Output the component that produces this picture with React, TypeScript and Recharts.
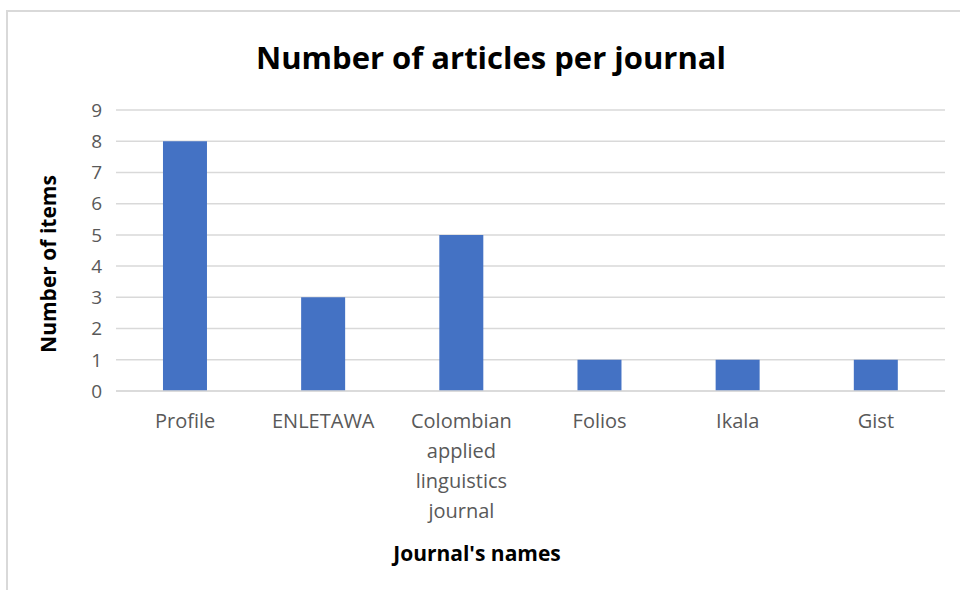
import { BarChart, Bar, XAxis, YAxis, CartesianGrid } from 'recharts';

// Journal names and article counts
const journals = ['Profile', 'ENLETAWA', 'Colombian applied linguistics journal', 'Folios', 'Ikala', 'Gist'];
const articleCounts = [8, 3, 5, 1, 1, 1];
const yTicks = [0, 1, 2, 3, 4, 5, 6, 7, 8, 9];

const chartData = journals.map((name, i) => ({ name, count: articleCounts[i] }));

const FONT = '"Open Sans", "Noto Sans", sans-serif';

// wrap long category names onto several lines, like the spreadsheet does
const wrapLabel = (text: string, maxChars: number) => {
  const words = text.split(' ');
  const lines: string[] = [];
  let current = '';
  words.forEach(w => {
    if (current && (current + ' ' + w).length > maxChars) {
      lines.push(current);
      current = w;
    } else {
      current = current ? current + ' ' + w : w;
    }
  });
  if (current) lines.push(current);
  return lines;
};

const JournalTick = ({ x, y, payload }: { x?: number; y?: number; payload?: { value: string } }) => {
  const lines = wrapLabel(payload?.value ?? '', 11);
  return (
    <text x={x} y={y} textAnchor="middle" fill="#595959" fontSize={20} fontFamily={FONT}>
      {lines.map((line, i) => (
        <tspan key={i} x={x} dy={i === 0 ? 29 : 30}>
          {line}
        </tspan>
      ))}
    </text>
  );
};

export default function App() {
  return (
    <div style={{ position: 'absolute', left: 0, top: 0, width: 960, height: 590, background: '#fff', fontFamily: FONT }}>
      {/* chart frame, only top and left edges show in the crop */}
      <div style={{
        position: 'absolute', left: 6, top: 10, width: 960, height: 590,
        borderTop: '2px solid #d9d9d9', borderLeft: '2px solid #d9d9d9'
      }} />
      <div style={{
        position: 'absolute', left: 0, top: 35, width: 982, textAlign: 'center',
        fontSize: 31, fontWeight: 700, color: '#000', lineHeight: '44px'
      }}>
        Number of articles per journal
      </div>
      <div style={{
        position: 'absolute', left: 48, top: 264, transform: 'translate(-50%, -50%) rotate(-90deg)',
        whiteSpace: 'nowrap', fontSize: 21, fontWeight: 700, color: '#000'
      }}>
        Number of items
      </div>
      <div style={{
        position: 'absolute', left: 0, top: 537, width: 954, textAlign: 'center',
        fontSize: 21, fontWeight: 700, color: '#000', lineHeight: '32px'
      }}>
        Journal's names
      </div>
      <BarChart
        width={960}
        height={590}
        data={chartData}
        margin={{ top: 110, right: 15, bottom: 0, left: 76 }}
        barCategoryGap="34%"
        style={{ position: 'absolute', left: 0, top: 0 }}
      >
        <CartesianGrid vertical={false} stroke="#d9d9d9" strokeWidth={1.5} />
        <XAxis
          dataKey="name"
          interval={0}
          axisLine={{ stroke: '#d9d9d9', strokeWidth: 1.5 }}
          tickLine={false}
          tick={<JournalTick />}
          height={199}
        />
        <YAxis
          width={40}
          domain={[0, 9]}
          ticks={yTicks}
          axisLine={false}
          tickLine={false}
          tickSize={0}
          tickMargin={14}
          tick={{ fill: '#595959', fontSize: 19, fontFamily: FONT }}
        />
        <Bar dataKey="count" fill="#4472C4" isAnimationActive={false} />
      </BarChart>
    </div>
  );
}
